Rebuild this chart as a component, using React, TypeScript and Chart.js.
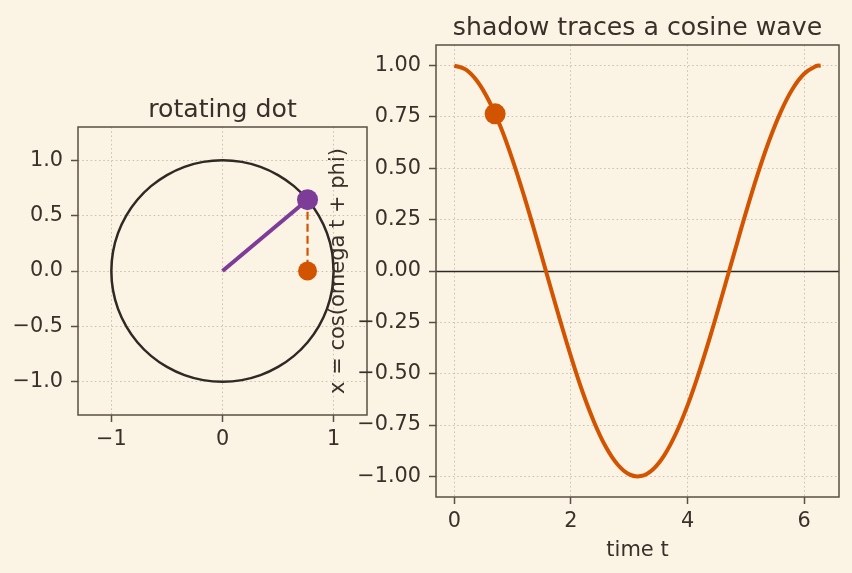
import React, { useEffect, useRef } from 'react';
import { Chart, registerables } from 'chart.js';

Chart.register(...registerables);

// ---------- data ----------
const circleX = [1, 0.985, 0.94, 0.866, 0.766, 0.643, 0.5, 0.342, 0.174, 0, -0.174, -0.342, -0.5, -0.643, -0.766, -0.866, -0.94, -0.985, -1, -0.985, -0.94, -0.866, -0.766, -0.643, -0.5, -0.342, -0.174, 0, 0.174, 0.342, 0.5, 0.643, 0.766, 0.866, 0.94, 0.985, 1];
const circleY = [0, 0.174, 0.342, 0.5, 0.643, 0.766, 0.866, 0.94, 0.985, 1, 0.985, 0.94, 0.866, 0.766, 0.643, 0.5, 0.342, 0.174, 0, -0.174, -0.342, -0.5, -0.643, -0.766, -0.866, -0.94, -0.985, -1, -0.985, -0.94, -0.866, -0.766, -0.643, -0.5, -0.342, -0.174, 0];
const phasorOrigin = [0, 0];
const phasorTip = [0.765, 0.644];
const shadowPoint = [0.765, 0];

const timeT = [0, 0.2, 0.4, 0.6, 0.8, 1.0, 1.2, 1.4, 1.6, 1.8, 2.0, 2.2, 2.4, 2.6, 2.8, 3.0, 3.2, 3.4, 3.6, 3.8, 4.0, 4.2, 4.4, 4.6, 4.8, 5.0, 5.2, 5.4, 5.6, 5.8, 6.0, 6.2, 6.283];
const cosValues = [1.0, 0.98, 0.921, 0.825, 0.697, 0.54, 0.362, 0.17, -0.029, -0.227, -0.416, -0.589, -0.737, -0.857, -0.942, -0.99, -0.998, -0.967, -0.897, -0.791, -0.654, -0.49, -0.307, -0.112, 0.087, 0.284, 0.469, 0.635, 0.776, 0.886, 0.96, 0.997, 1.0];
const currentT = 0.7;
const currentX = 0.765;

const leftXTicks = [-1, 0, 1];
const leftXTickLabels = ['\u22121', '0', '1'];
const leftYTicks = [-1, -0.5, 0, 0.5, 1];
const leftYTickLabels = ['\u22121.0', '\u22120.5', '0.0', '0.5', '1.0'];
const leftRange = [-1.3, 1.3];

const rightXTicks = [0, 2, 4, 6];
const rightXTickLabels = ['0', '2', '4', '6'];
const rightYTicks = [-1, -0.75, -0.5, -0.25, 0, 0.25, 0.5, 0.75, 1];
const rightYTickLabels = ['\u22121.00', '\u22120.75', '\u22120.50', '\u22120.25', '0.00', '0.25', '0.50', '0.75', '1.00'];
const rightXRange = [-0.314, 6.597];
const rightYRange = [-1.1, 1.1];

const leftTitle = 'rotating dot';
const rightTitle = 'shadow traces a cosine wave';
const rightXLabel = 'time t';
const rightYLabel = 'x = cos(omega t + phi)';

// ---------- style ----------
const BG = '#fbf3e4';
const TEXT = '#3a3029';
const SPINE = '#5a4f43';
const GRID = '#cbc2b1';
const DARK = '#2f2924';
const ORANGE = '#d35400';
const PURPLE = '#7d3c98';
const FONT = 'DejaVu Sans';
const TICK_SIZE = 20.8;
const TITLE_SIZE = 25.2;
const LABEL_SIZE = 21;

function makeScale(range: number[], ticks: number[], labels: string[], horizontal: boolean, fixedSize: number) {
  return {
    type: 'linear' as const,
    min: range[0],
    max: range[1],
    afterBuildTicks: (scale: any) => {
      scale.ticks = ticks.map((v) => ({ value: v }));
    },
    afterFit: (scale: any) => {
      if (horizontal) scale.height = fixedSize;
      else scale.width = fixedSize;
    },
    grid: {
      color: GRID,
      lineWidth: 1,
      drawTicks: true,
      tickLength: 7,
      tickColor: SPINE,
      tickWidth: 1.5,
      tickBorderDash: [],
    },
    border: { display: false, dash: [1.6, 2.6] },
    ticks: {
      autoSkip: false,
      maxRotation: 0,
      minRotation: 0,
      color: TEXT,
      padding: horizontal ? 5 : 8,
      font: { family: FONT, size: TICK_SIZE },
      callback: (value: any) => {
        const i = ticks.indexOf(Number(value));
        return i >= 0 ? labels[i] : '';
      },
    },
  };
}

function framePlugin(title: string, extra?: (chart: any) => void) {
  return {
    id: 'frameTitle',
    afterDraw(chart: any) {
      const { ctx, chartArea: a } = chart;
      ctx.save();
      ctx.strokeStyle = SPINE;
      ctx.lineWidth = 1.5;
      ctx.strokeRect(a.left, a.top, a.right - a.left, a.bottom - a.top);
      ctx.fillStyle = TEXT;
      ctx.font = `${TITLE_SIZE}px "${FONT}"`;
      ctx.textAlign = 'center';
      ctx.textBaseline = 'alphabetic';
      ctx.fillText(title, (a.left + a.right) / 2, a.top - 10);
      if (extra) extra(chart);
      ctx.restore();
    },
  };
}

const zeroLinePlugin = {
  id: 'zeroLine',
  beforeDatasetsDraw(chart: any) {
    const { ctx, chartArea: a } = chart;
    const y = Math.round(chart.scales.y.getPixelForValue(0)) + 0.5;
    ctx.save();
    ctx.strokeStyle = DARK;
    ctx.lineWidth = 1.6;
    ctx.beginPath();
    ctx.moveTo(a.left, y);
    ctx.lineTo(a.right, y);
    ctx.stroke();
    ctx.restore();
  },
};

export default function App() {
  const leftRef = useRef<HTMLCanvasElement>(null);
  const rightRef = useRef<HTMLCanvasElement>(null);

  useEffect(() => {
    const left = new Chart(leftRef.current as HTMLCanvasElement, {
      type: 'scatter',
      data: {
        datasets: [
          {
            data: circleX.map((x, i) => ({ x, y: circleY[i] })),
            showLine: true,
            borderColor: DARK,
            borderWidth: 2.5,
            pointRadius: 0,
            tension: 0.33,
            order: 5,
          } as any,
          {
            data: [
              { x: phasorOrigin[0], y: phasorOrigin[1] },
              { x: phasorTip[0], y: phasorTip[1] },
            ],
            showLine: true,
            borderColor: PURPLE,
            borderWidth: 4,
            pointRadius: 0,
            order: 4,
          },
          {
            data: [
              { x: phasorTip[0], y: phasorTip[1] },
              { x: shadowPoint[0], y: shadowPoint[1] },
            ],
            showLine: true,
            borderColor: ORANGE,
            borderWidth: 2.2,
            borderDash: [8, 4],
            pointRadius: 0,
            order: 3,
          },
          {
            data: [{ x: phasorTip[0], y: phasorTip[1] }],
            pointRadius: 10.5,
            pointBackgroundColor: PURPLE,
            pointBorderWidth: 0,
            order: 2,
          },
          {
            data: [{ x: shadowPoint[0], y: shadowPoint[1] }],
            pointRadius: 9.5,
            pointBackgroundColor: ORANGE,
            pointBorderWidth: 0,
            order: 1,
          },
        ],
      },
      options: {
        animation: false,
        responsive: false,
        maintainAspectRatio: false,
        events: [],
        layout: { autoPadding: false, padding: { left: 0, top: 127, right: 485, bottom: 0 } },
        plugins: { legend: { display: false }, tooltip: { enabled: false }, title: { display: false } },
        scales: {
          x: makeScale(leftRange, leftXTicks, leftXTickLabels, true, 158) as any,
          y: makeScale(leftRange, leftYTicks, leftYTickLabels, false, 78) as any,
        },
      },
      plugins: [framePlugin(leftTitle)],
    });

    const right = new Chart(rightRef.current as HTMLCanvasElement, {
      type: 'scatter',
      data: {
        datasets: [
          {
            data: [{ x: currentT, y: currentX }],
            pointRadius: 10.5,
            pointBackgroundColor: ORANGE,
            pointBorderWidth: 0,
            order: 1,
          },
          {
            data: timeT.map((t, i) => ({ x: t, y: cosValues[i] })),
            showLine: true,
            borderColor: ORANGE,
            borderWidth: 4,
            pointRadius: 0,
            tension: 0.4,
            order: 2,
          } as any,
        ],
      },
      options: {
        animation: false,
        responsive: false,
        maintainAspectRatio: false,
        events: [],
        layout: { autoPadding: false, padding: { left: 0, top: 45, right: 13, bottom: 0 } },
        plugins: { legend: { display: false }, tooltip: { enabled: false }, title: { display: false } },
        scales: {
          x: makeScale(rightXRange, rightXTicks, rightXTickLabels, true, 76) as any,
          y: makeScale(rightYRange, rightYTicks, rightYTickLabels, false, 436) as any,
        },
      },
      plugins: [
        zeroLinePlugin,
        framePlugin(rightTitle, (chart: any) => {
          const { ctx, chartArea: a } = chart;
          ctx.font = `${LABEL_SIZE}px "${FONT}"`;
          ctx.fillStyle = TEXT;
          ctx.textAlign = 'center';
          ctx.textBaseline = 'alphabetic';
          ctx.fillText(rightXLabel, (a.left + a.right) / 2, 556);
          ctx.save();
          ctx.translate(344, (a.top + a.bottom) / 2);
          ctx.rotate(-Math.PI / 2);
          ctx.fillText(rightYLabel, 0, 0);
          ctx.restore();
        }),
      ],
    });

    return () => {
      left.destroy();
      right.destroy();
    };
  }, []);

  return (
    <div style={{ position: 'absolute', left: 0, top: 0, width: 852, height: 573, background: BG, overflow: 'hidden' }}>
      <canvas ref={leftRef} width={852} height={573} style={{ position: 'absolute', left: 0, top: 0 }} />
      <canvas ref={rightRef} width={852} height={573} style={{ position: 'absolute', left: 0, top: 0 }} />
    </div>
  );
}
